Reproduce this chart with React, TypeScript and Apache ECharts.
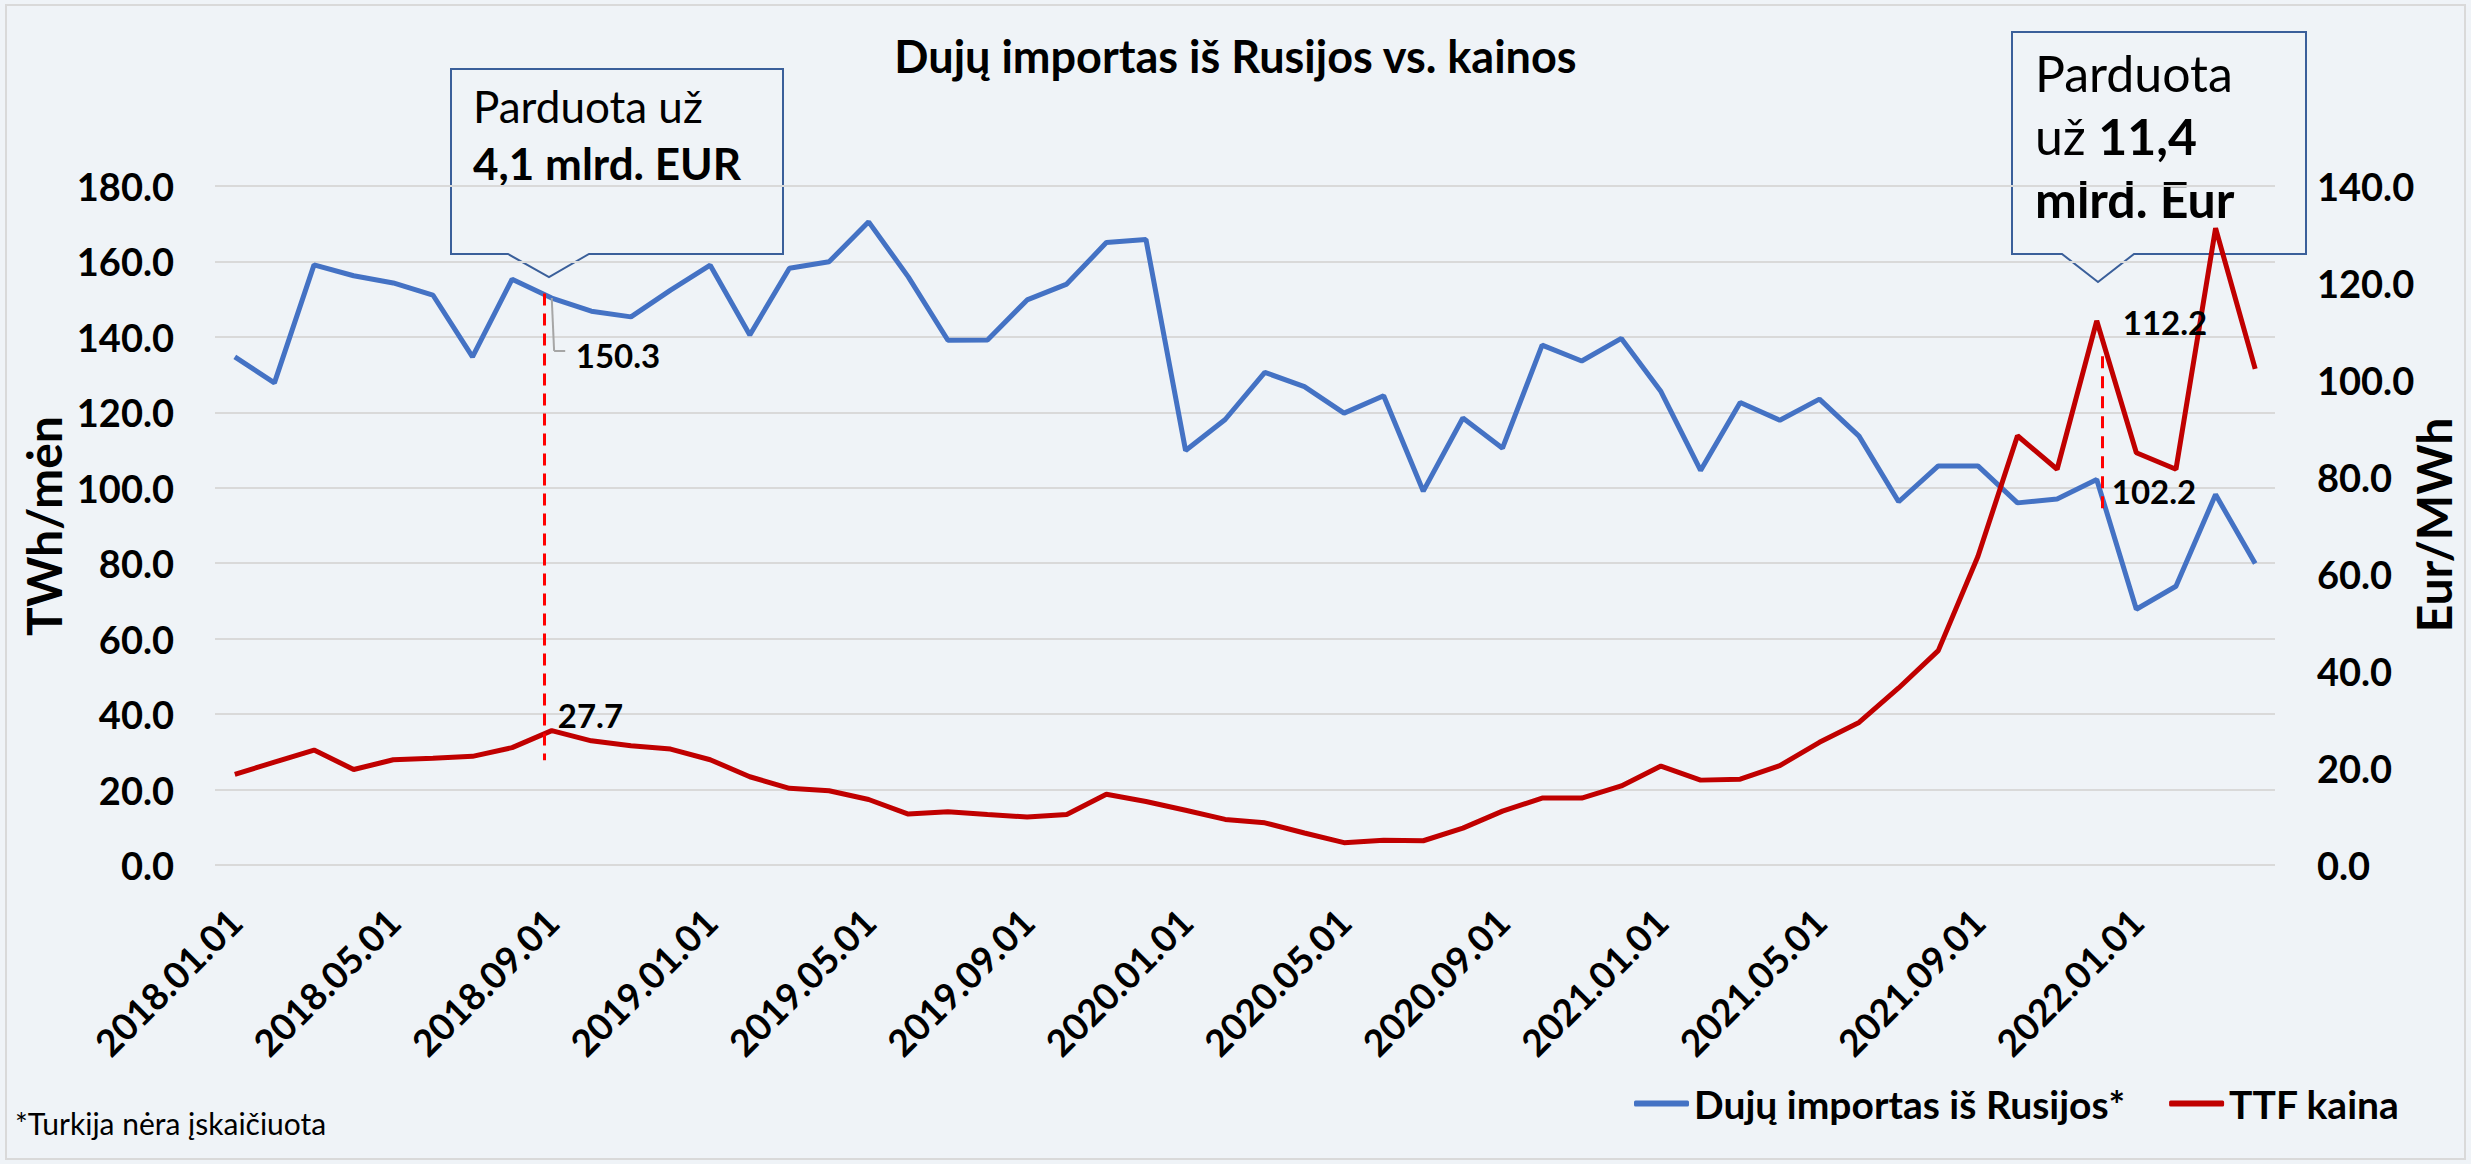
import React, { useEffect, useRef } from "react";
import * as echarts from "echarts";

const categories: string[] = [
  "2018.01.01", "2018.02.01", "2018.03.01", "2018.04.01", "2018.05.01", "2018.06.01",
  "2018.07.01", "2018.08.01", "2018.09.01", "2018.10.01", "2018.11.01", "2018.12.01",
  "2019.01.01", "2019.02.01", "2019.03.01", "2019.04.01", "2019.05.01", "2019.06.01",
  "2019.07.01", "2019.08.01", "2019.09.01", "2019.10.01", "2019.11.01", "2019.12.01",
  "2020.01.01", "2020.02.01", "2020.03.01", "2020.04.01", "2020.05.01", "2020.06.01",
  "2020.07.01", "2020.08.01", "2020.09.01", "2020.10.01", "2020.11.01", "2020.12.01",
  "2021.01.01", "2021.02.01", "2021.03.01", "2021.04.01", "2021.05.01", "2021.06.01",
  "2021.07.01", "2021.08.01", "2021.09.01", "2021.10.01", "2021.11.01", "2021.12.01",
  "2022.01.01", "2022.02.01", "2022.03.01", "2022.04.01",
];

// Dujų importas iš Rusijos (TWh/mėn), left axis
const importVolume: number[] = [
  134.7, 127.8, 159.1, 156.2, 154.3, 151.1, 134.7, 155.3, 150.3, 146.8, 145.3, 152.4,
  159.0, 140.5, 158.2, 159.9, 170.5, 155.9, 139.1, 139.2, 149.8, 154.0, 165.0, 165.8,
  109.9, 118.1, 130.6, 126.8, 119.8, 124.4, 99.1, 118.5, 110.5, 137.8, 133.6, 139.6,
  125.5, 104.6, 122.6, 117.9, 123.5, 113.7, 96.3, 105.8, 105.8, 96.0, 97.0, 102.2,
  67.8, 73.9, 98.2, 79.9,
];

// TTF kaina (Eur/MWh), right axis
const ttfPrice: number[] = [
  18.7, 21.2, 23.7, 19.7, 21.7, 22.0, 22.4, 24.2, 27.7, 25.6, 24.6, 23.9,
  21.7, 18.2, 15.8, 15.3, 13.5, 10.5, 11.0, 10.4, 9.9, 10.4, 14.6, 13.1,
  11.3, 9.4, 8.7, 6.6, 4.6, 5.1, 5.0, 7.6, 11.1, 13.8, 13.8, 16.3,
  20.4, 17.5, 17.7, 20.5, 25.3, 29.4, 36.5, 44.2, 63.6, 88.5, 81.6, 112.2,
  85.0, 81.6, 131.3, 102.3,
];

const leftTicks = { min: 0, max: 180, interval: 20 };
const rightTicks = { min: 0, max: 140, interval: 20 };

const seriesNames = ["Dujų importas iš Rusijos*", "TTF kaina"];
const labelledIndex1 = 8; // 2018.09
const labelledIndex2 = 47; // 2021.12

const FONT = "Lato";
const BG = "#EFF3F7";
const BLUE = "#4472C4";
const RED = "#C00000";
const BOX = "#3A5F9A";

export default function App() {
  const ref = useRef<HTMLDivElement>(null);

  useEffect(() => {
    if (!ref.current) return;
    const chart = echarts.init(ref.current, undefined, { renderer: "svg" });

    const pointLabel = {
      fontFamily: FONT,
      fontWeight: "bold",
      fontSize: 33,
      color: "#000",
    };

    const blueData: any[] = importVolume.map((v, i) => {
      if (i === labelledIndex1) {
        return {
          value: v,
          label: { show: true, position: "right", distance: 0, offset: [24, 57], formatter: v.toFixed(1), ...pointLabel },
        };
      }
      if (i === labelledIndex2) {
        return {
          value: v,
          label: { show: true, position: "right", distance: 0, offset: [15, 12], formatter: v.toFixed(1), ...pointLabel },
        };
      }
      return v;
    });
    const redData: any[] = ttfPrice.map((v, i) => {
      if (i === labelledIndex1) {
        return {
          value: v,
          label: { show: true, position: "right", distance: 0, offset: [6, -16], formatter: v.toFixed(1), ...pointLabel },
        };
      }
      if (i === labelledIndex2) {
        return {
          value: v,
          label: { show: true, position: "right", distance: 0, offset: [26, 1], formatter: v.toFixed(1), ...pointLabel },
        };
      }
      return v;
    });

    const option: any = {
      animation: false,
      backgroundColor: BG,
      title: {
        text: "Dujų importas iš Rusijos vs. kainos",
        left: "center",
        top: 28,
        textStyle: { fontFamily: FONT, fontWeight: "bold", fontSize: 45, color: "#000" },
      },
      legend: {
        left: 1629,
        top: 1079,
        icon: "roundRect",
        itemWidth: 55,
        itemHeight: 6,
        itemGap: 44,
        data: seriesNames,
        textStyle: { fontFamily: FONT, fontWeight: "bold", fontSize: 39, color: "#000" },
      },
      grid: { left: 215, right: 196, top: 186, bottom: 299 },
      xAxis: [
        {
          type: "category",
          data: categories,
          boundaryGap: true,
          axisLine: { show: false },
          axisTick: { show: false },
          axisLabel: {
            interval: 3,
            rotate: 45,
            margin: 50,
            fontFamily: FONT,
            fontWeight: "bold",
            fontSize: 37,
            color: "#000",
          },
        },
        {
          type: "value",
          min: -0.5,
          max: categories.length - 0.5,
          show: false,
        },
      ],
      yAxis: [
        {
          type: "value",
          min: leftTicks.min,
          max: leftTicks.max,
          interval: leftTicks.interval,
          axisLine: { show: false },
          axisTick: { show: false },
          splitLine: { lineStyle: { color: "#D9D9D9", width: 2 } },
          axisLabel: {
            margin: 41,
            formatter: (v: number) => v.toFixed(1),
            fontFamily: FONT,
            fontWeight: "bold",
            fontSize: 38,
            color: "#000",
          },
        },
        {
          type: "value",
          min: rightTicks.min,
          max: rightTicks.max,
          interval: rightTicks.interval,
          axisLine: { show: false },
          axisTick: { show: false },
          splitLine: { show: false },
          axisLabel: {
            margin: 42,
            formatter: (v: number) => v.toFixed(1),
            fontFamily: FONT,
            fontWeight: "bold",
            fontSize: 38,
            color: "#000",
          },
        },
      ],
      series: [
        {
          name: seriesNames[0],
          type: "line",
          data: blueData,
          yAxisIndex: 0,
          symbol: "circle",
          symbolSize: 0.1,
          showSymbol: true,
          showAllSymbol: true,
          itemStyle: { color: BLUE },
          lineStyle: { color: BLUE, width: 5 },
          label: { show: false },
          z: 3,
        },
        {
          name: seriesNames[1],
          type: "line",
          data: redData,
          yAxisIndex: 1,
          symbol: "circle",
          symbolSize: 0.1,
          showSymbol: true,
          showAllSymbol: true,
          itemStyle: { color: RED },
          lineStyle: { color: RED, width: 5 },
          label: { show: false },
          z: 4,
        },
        {
          name: "annotations",
          type: "line",
          xAxisIndex: 1,
          yAxisIndex: 0,
          data: [],
          silent: true,
          markLine: {
            silent: true,
            symbol: ["none", "none"],
            label: { show: false },
            animation: false,
            data: [
              [
                { coord: [7.8, 151.5], lineStyle: { color: "#FF0000", width: 3, type: [12, 8] } },
                { coord: [7.8, 27.8] },
              ],
              [
                { coord: [47.14, 134.9], lineStyle: { color: "#FF0000", width: 3, type: [12, 8] } },
                { coord: [47.14, 94.4] },
              ],
              [
                { coord: [labelledIndex1, importVolume[labelledIndex1]], lineStyle: { color: "#A6A6A6", width: 2, type: "solid" } },
                { coord: [8.06, 136.3] },
              ],
              [
                { coord: [8.06, 136.3], lineStyle: { color: "#A6A6A6", width: 2, type: "solid" } },
                { coord: [8.34, 136.3] },
              ],
            ],
          },
          z: 5,
        },
      ],
      graphic: [
        {
          type: "rect",
          shape: { x: 6, y: 5, width: 2459, height: 1154 },
          style: { fill: "none", stroke: "#D9D9D9", lineWidth: 2 },
          silent: true,
          z: -1,
        },
        {
          type: "polygon",
          shape: {
            points: [
              [451, 69], [783, 69], [783, 254], [589, 254], [549, 277], [508, 254], [451, 254],
            ],
          },
          style: { fill: "none", stroke: BOX, lineWidth: 2 },
          silent: true,
        },
        {
          type: "text",
          x: 473,
          y: 77,
          style: {
            text: "{n|Parduota už}\n{b|4,1 mlrd. EUR}",
            fill: "#000",
            fontFamily: FONT,
            rich: {
              n: { fontFamily: FONT, fontSize: 44, lineHeight: 57, fill: "#000" },
              b: { fontFamily: FONT, fontSize: 44, fontWeight: "bold", lineHeight: 57, fill: "#000" },
            },
          },
          silent: true,
        },
        {
          type: "polygon",
          shape: {
            points: [
              [2012, 32], [2306, 32], [2306, 254], [2134, 254], [2098, 282], [2062, 254], [2012, 254],
            ],
          },
          style: { fill: "none", stroke: BOX, lineWidth: 2 },
          silent: true,
        },
        {
          type: "text",
          x: 2035,
          y: 41,
          style: {
            text: "{n|Parduota}\n{n|už }{b|11,4}\n{b|mlrd. Eur}",
            fill: "#000",
            fontFamily: FONT,
            rich: {
              n: { fontFamily: FONT, fontSize: 50, lineHeight: 63, fill: "#000" },
              b: { fontFamily: FONT, fontSize: 50, fontWeight: "bold", lineHeight: 63, fill: "#000" },
            },
          },
          silent: true,
        },
        {
          type: "text",
          x: 43,
          y: 526,
          rotation: Math.PI / 2,
          style: {
            text: "TWh/mėn",
            align: "center",
            verticalAlign: "middle",
            fontFamily: FONT,
            fontWeight: "bold",
            fontSize: 48,
            fill: "#000",
          },
          silent: true,
        },
        {
          type: "text",
          x: 2433,
          y: 525,
          rotation: Math.PI / 2,
          style: {
            text: "Eur/MWh",
            align: "center",
            verticalAlign: "middle",
            fontFamily: FONT,
            fontWeight: "bold",
            fontSize: 48,
            fill: "#000",
          },
          silent: true,
        },
        {
          type: "text",
          x: 15,
          y: 1138,
          style: {
            text: "*Turkija nėra įskaičiuota",
            verticalAlign: "bottom",
            fontFamily: FONT,
            fontSize: 30,
            fill: "#000",
          },
          silent: true,
        },
      ],
    };

    chart.setOption(option);
    return () => chart.dispose();
  }, []);

  return (
    <div
      ref={ref}
      style={{ position: "absolute", left: 0, top: 0, width: 2471, height: 1164 }}
    />
  );
}
